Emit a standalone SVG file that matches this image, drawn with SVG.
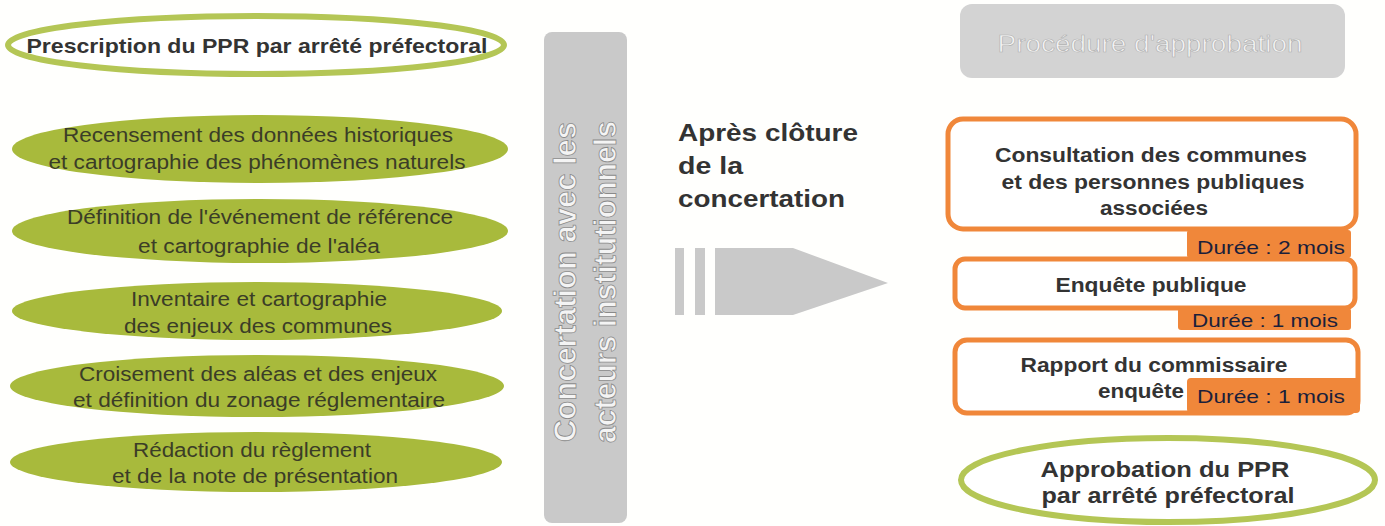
<svg xmlns="http://www.w3.org/2000/svg" width="1385" height="526" viewBox="0 0 1385 526">
<style>
.bg{fill:#fffffd}
.gfill{fill:#a8ba3c}
.gline{fill:#ffffff;stroke:#b4c655;stroke-width:6}
.gtxt{font-family:"Liberation Sans",Arial,sans-serif;font-size:20px;fill:#3b3d27;text-anchor:middle}
.btxt{font-family:"Liberation Sans",Arial,sans-serif;font-weight:bold;fill:#333333;text-anchor:middle}
.left{text-anchor:start}
.obox{fill:#ffffff;stroke:#f0873a;stroke-width:5}
.otab{fill:#f0873a}
.dtxt{font-family:"Liberation Sans",Arial,sans-serif;font-size:19px;fill:#1b1f3a;text-anchor:middle}
.vtxt{font-family:"Liberation Sans",Arial,sans-serif;font-size:31px;font-weight:bold;fill:#f4f4f4;stroke:#8a8a8a;stroke-width:0.8;text-anchor:middle}
.grey{fill:#c9c9c9}
</style>
<rect class="bg" x="0" y="0" width="1385" height="526"/>

<g id="prescription">
<ellipse class="gline" cx="256" cy="45" rx="248" ry="29"/>
<text class="btxt" x="257" y="53" font-size="21" textLength="461" lengthAdjust="spacingAndGlyphs">Prescription du PPR par arrêté préfectoral</text>
</g>

<g id="recensement">
<ellipse class="gfill" cx="260" cy="149" rx="248" ry="34"/>
<text class="gtxt" x="258" y="142" textLength="390" lengthAdjust="spacingAndGlyphs">Recensement des données historiques</text>
<text class="gtxt" x="257" y="169" textLength="417" lengthAdjust="spacingAndGlyphs">et cartographie des phénomènes naturels</text>
</g>

<g id="definition">
<ellipse class="gfill" cx="260" cy="231" rx="248" ry="32"/>
<text class="gtxt" x="260" y="224" textLength="386" lengthAdjust="spacingAndGlyphs">Définition de l'événement de référence</text>
<text class="gtxt" x="259" y="253" textLength="242" lengthAdjust="spacingAndGlyphs">et cartographie de l'aléa</text>
</g>

<g id="inventaire">
<ellipse class="gfill" cx="257" cy="311" rx="245" ry="29"/>
<text class="gtxt" x="259" y="306" textLength="256" lengthAdjust="spacingAndGlyphs">Inventaire et cartographie</text>
<text class="gtxt" x="258" y="333" textLength="268" lengthAdjust="spacingAndGlyphs">des enjeux des communes</text>
</g>

<g id="croisement">
<ellipse class="gfill" cx="257" cy="386" rx="247" ry="31"/>
<text class="gtxt" x="258" y="381" textLength="358" lengthAdjust="spacingAndGlyphs">Croisement des aléas et des enjeux</text>
<text class="gtxt" x="259" y="407" textLength="372" lengthAdjust="spacingAndGlyphs">et définition du zonage réglementaire</text>
</g>

<g id="redaction">
<ellipse class="gfill" cx="256" cy="462" rx="246" ry="30"/>
<text class="gtxt" x="252" y="457" textLength="238" lengthAdjust="spacingAndGlyphs">Rédaction du règlement</text>
<text class="gtxt" x="255" y="483" textLength="286" lengthAdjust="spacingAndGlyphs">et de la note de présentation</text>
</g>

<g id="concertation">
<rect class="grey" x="544" y="32" width="83" height="491" rx="8"/>
<g transform="translate(585,282) rotate(-90)">
<text class="vtxt" x="0" y="-9" textLength="320" lengthAdjust="spacingAndGlyphs">Concertation avec les</text>
<text class="vtxt" x="0" y="31" textLength="322" lengthAdjust="spacingAndGlyphs">acteurs institutionnels</text>
</g>
</g>

<g id="apres">
<text class="btxt left" x="678" y="141" font-size="24" textLength="180" lengthAdjust="spacingAndGlyphs">Après clôture</text>
<text class="btxt left" x="678" y="174" font-size="24" textLength="65" lengthAdjust="spacingAndGlyphs">de la</text>
<text class="btxt left" x="678" y="207" font-size="24" textLength="167" lengthAdjust="spacingAndGlyphs">concertation</text>
</g>

<g id="connectors">
<rect class="grey" x="675" y="248" width="9" height="67"/>
<rect class="grey" x="695" y="248" width="10" height="67"/>
<polygon class="grey" points="715,248 793,248 888,283 793,315 715,315"/>
</g>

<g id="procedure">
<rect x="960" y="4" width="385" height="74" rx="12" fill="#d3d3d3"/>
<text x="1150" y="52" font-family="'Liberation Sans',Arial,sans-serif" font-size="24" fill="#f4f4f4" stroke="#b0b0b0" stroke-width="0.6" text-anchor="middle" textLength="305" lengthAdjust="spacingAndGlyphs">Procédure d'approbation</text>
</g>

<g id="consultation">
<rect class="obox" x="948" y="119" width="408" height="110" rx="15"/>
<text class="btxt" x="1151" y="162" font-size="20" textLength="312" lengthAdjust="spacingAndGlyphs">Consultation des communes</text>
<text class="btxt" x="1153" y="189" font-size="20" textLength="303" lengthAdjust="spacingAndGlyphs">et des personnes publiques</text>
<text class="btxt" x="1154" y="215" font-size="20" textLength="108" lengthAdjust="spacingAndGlyphs">associées</text>
<rect class="otab" x="1187" y="230" width="164" height="28" rx="3"/>
<text class="dtxt" x="1271" y="254" textLength="148" lengthAdjust="spacingAndGlyphs">Durée : 2 mois</text>
</g>

<g id="enquete">
<rect class="obox" x="955" y="259" width="400" height="49" rx="10"/>
<text class="btxt" x="1151" y="292" font-size="20" textLength="191" lengthAdjust="spacingAndGlyphs">Enquête publique</text>
<rect class="otab" x="1178" y="308" width="173" height="22" rx="3"/>
<text class="dtxt" x="1265" y="327" textLength="146" lengthAdjust="spacingAndGlyphs">Durée : 1 mois</text>
</g>

<g id="rapport">
<rect class="obox" x="955" y="340" width="403" height="73" rx="12"/>
<text class="btxt" x="1154" y="372" font-size="20" textLength="267" lengthAdjust="spacingAndGlyphs">Rapport du commissaire</text>
<text class="btxt" x="1141" y="398" font-size="20" textLength="86" lengthAdjust="spacingAndGlyphs">enquête</text>
<rect class="otab" x="1187" y="378" width="173" height="35" rx="4"/>
<text class="dtxt" x="1271" y="403" textLength="148" lengthAdjust="spacingAndGlyphs">Durée : 1 mois</text>
</g>

<g id="approbation">
<ellipse class="gline" cx="1168" cy="480" rx="207" ry="42" stroke-width="7"/>
<text class="btxt" x="1165" y="477" font-size="22" textLength="249" lengthAdjust="spacingAndGlyphs">Approbation du PPR</text>
<text class="btxt" x="1168" y="503" font-size="22" textLength="253" lengthAdjust="spacingAndGlyphs">par arrêté préfectoral</text>
</g>
</svg>
